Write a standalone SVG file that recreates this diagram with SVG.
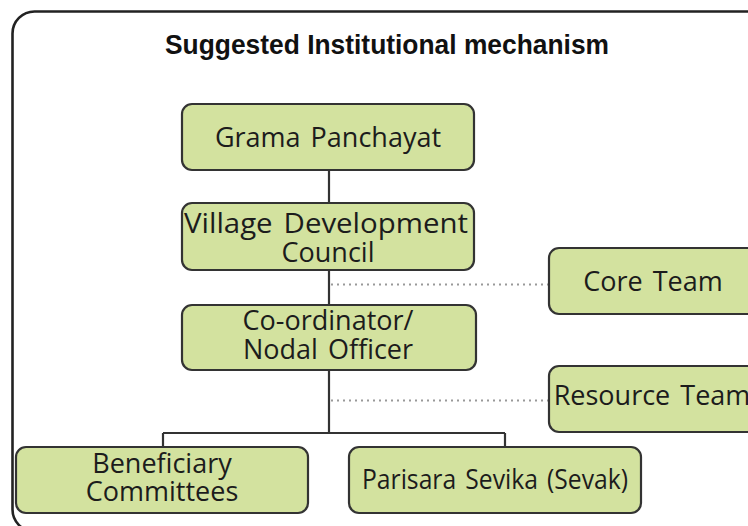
<svg xmlns="http://www.w3.org/2000/svg" width="748" height="526" viewBox="0 0 748 526">
<style>
.box{fill:#d3e29f;stroke:#333;stroke-width:2.2}
.t{font-family:"Open Sans","Noto Sans","DejaVu Sans",sans-serif;font-size:27px;fill:#1c1c1c;text-anchor:middle;word-spacing:3px}
.solid{fill:none;stroke:#333;stroke-width:2.2}
.dot{fill:none;stroke:#999;stroke-width:2;stroke-dasharray:2 4}
</style>
<rect x="12.5" y="11.5" width="780" height="520" rx="22" ry="22" fill="none" stroke="#222" stroke-width="2.6"/>
<text x="387" y="54" font-family="Liberation Sans, Arial, sans-serif" font-weight="bold" font-size="27" text-anchor="middle" textLength="444" lengthAdjust="spacingAndGlyphs" fill="#111">Suggested Institutional mechanism</text>
<g id="connectors">
<path class="solid" d="M329 170V203M329 270V305M329 370V433M163 433H505M163 433V447M505 433V447"/>
<path class="dot" d="M331 284.5H548M331 400.5H548"/>
</g>
<g id="grama-panchayat">
<rect class="box" x="182" y="104" width="292" height="66" rx="10"/>
<text class="t" x="328" y="147">Grama Panchayat</text>
</g>
<g id="village-development-council">
<rect class="box" x="182" y="203" width="292" height="67" rx="10"/>
<text class="t" x="326" y="233" textLength="284" lengthAdjust="spacingAndGlyphs">Village Development</text>
<text class="t" x="328" y="262">Council</text>
</g>
<g id="core-team">
<rect class="box" x="549" y="248" width="220" height="66" rx="10"/>
<text class="t" x="653" y="291">Core Team</text>
</g>
<g id="coordinator">
<rect class="box" x="182" y="305" width="294" height="65" rx="10"/>
<text class="t" x="328" y="330">Co-ordinator/</text>
<text class="t" x="328" y="359">Nodal Officer</text>
</g>
<g id="resource-team">
<rect class="box" x="549" y="366" width="220" height="66" rx="10"/>
<text class="t" x="652" y="405">Resource Team</text>
</g>
<g id="beneficiary-committees">
<rect class="box" x="16" y="447" width="292" height="66" rx="10"/>
<text class="t" x="162" y="473">Beneficiary</text>
<text class="t" x="162" y="501">Committees</text>
</g>
<g id="parisara-sevika">
<rect class="box" x="349" y="447" width="292" height="66" rx="10"/>
<text class="t" x="495" y="489" font-size="25" textLength="266" lengthAdjust="spacingAndGlyphs">Parisara Sevika (Sevak)</text>
</g>
</svg>
